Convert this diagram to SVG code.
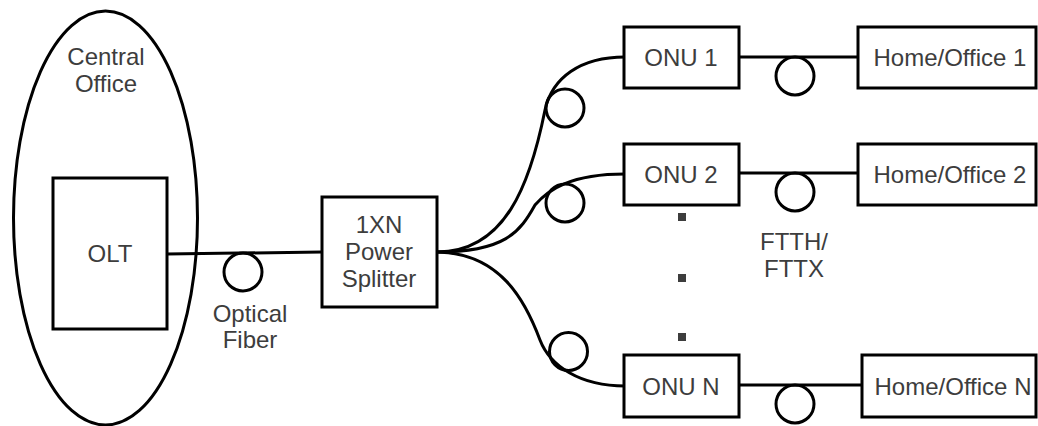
<svg xmlns="http://www.w3.org/2000/svg" width="1038" height="426" viewBox="0 0 1038 426">
<style>
.box{fill:#fff;stroke:#000;stroke-width:3}
.ln{fill:none;stroke:#000;stroke-width:3}
.loop{fill:none;stroke:#000;stroke-width:3}
.t{font-family:"Liberation Sans",Arial,sans-serif;font-size:24px;fill:#3d3d3d;text-anchor:middle}
.dot{fill:#3d3d3d}
</style>
<rect width="1038" height="426" fill="#fff"/>
<g id="connectors">
<path class="ln" d="M167,254 L322,252"/>
<path class="ln" d="M437,252 C505,252 530,185 545,110 C552,78 580,57 625,57"/>
<path class="ln" d="M437,252 C505,252 520,232 535,205 C548,190 570,174 625,174"/>
<path class="ln" d="M437,252 C500,253 525,300 540,340 C550,366 580,386 625,386"/>
<path class="ln" d="M739,57 L858,57"/>
<path class="ln" d="M739,173 L858,173"/>
<path class="ln" d="M739,385 L862,385"/>
<circle class="loop" cx="243" cy="272" r="19"/>
<circle class="loop" cx="565" cy="108" r="19"/>
<circle class="loop" cx="565" cy="203" r="19"/>
<circle class="loop" cx="568.5" cy="351.5" r="19"/>
<circle class="loop" cx="795" cy="76" r="19"/>
<circle class="loop" cx="795" cy="192" r="19"/>
<circle class="loop" cx="795" cy="404" r="19"/>
</g>
<g id="central-office">
<ellipse cx="105.5" cy="218" rx="92" ry="207" fill="none" stroke="#000" stroke-width="3"/>
<text class="t" x="106" y="65">Central</text>
<text class="t" x="106" y="92">Office</text>
</g>
<g id="olt">
<rect class="box" x="53" y="178" width="114" height="151"/>
<text class="t" x="110" y="262">OLT</text>
</g>
<g id="optical-fiber-label">
<text class="t" x="250" y="322">Optical</text>
<text class="t" x="250" y="348">Fiber</text>
</g>
<g id="splitter">
<rect class="box" x="322" y="197" width="115" height="110"/>
<text class="t" x="379" y="233">1XN</text>
<text class="t" x="379" y="260">Power</text>
<text class="t" x="379" y="287">Splitter</text>
</g>
<g id="onu1">
<rect class="box" x="624" y="27" width="115" height="61"/>
<text class="t" x="681" y="66">ONU 1</text>
</g>
<g id="onu2">
<rect class="box" x="624" y="144" width="115" height="61"/>
<text class="t" x="681" y="183">ONU 2</text>
</g>
<g id="onuN">
<rect class="box" x="624" y="355" width="115" height="62"/>
<text class="t" x="681" y="395">ONU N</text>
</g>
<g id="home1">
<rect class="box" x="858" y="27" width="178" height="61"/>
<text class="t" x="950" y="66">Home/Office 1</text>
</g>
<g id="home2">
<rect class="box" x="858" y="144" width="178" height="61"/>
<text class="t" x="950" y="183">Home/Office 2</text>
</g>
<g id="homeN">
<rect class="box" x="862" y="355" width="174" height="62"/>
<text class="t" x="953" y="395">Home/Office N</text>
</g>
<g id="dots">
<rect class="dot" x="678" y="213" width="8" height="8"/>
<rect class="dot" x="678" y="274" width="8" height="8"/>
<rect class="dot" x="678" y="333" width="8" height="8"/>
</g>
<g id="ftth-label">
<text class="t" x="794" y="250">FTTH/</text>
<text class="t" x="794" y="277">FTTX</text>
</g>
</svg>
